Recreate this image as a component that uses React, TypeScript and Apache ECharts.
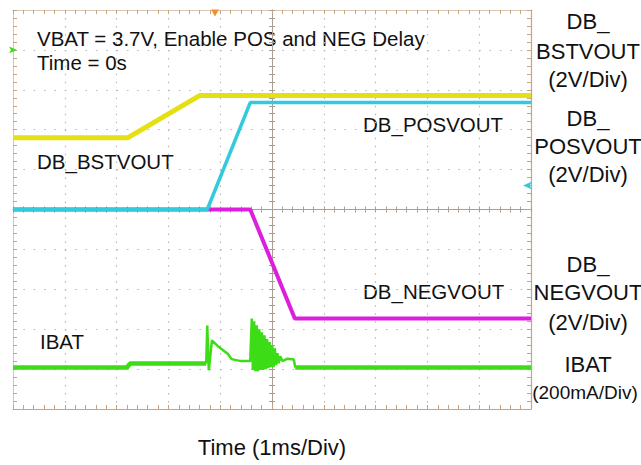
import React, { useEffect, useRef } from "react";
import * as echarts from "echarts";

// Time axis in ms (1 ms/div), vertical axis in screen divisions
const timeRange = [-5, 5];
const divRange = [-5, 5];

// DB_BSTVOUT (yellow) [time ms, div]
const bstvout: [number, number][] = [
  [-5, 1.8], [-2.78, 1.8], [-1.39, 2.86], [5, 2.86],
];
// DB_POSVOUT (cyan)
const posvout: [number, number][] = [
  [-5, 0], [-1.25, 0], [-0.42, 2.68], [5, 2.68],
];
// DB_NEGVOUT (magenta)
const negvout: [number, number][] = [
  [-5, 0], [-0.42, 0], [0.44, -2.73], [5, -2.73],
];
// IBAT (green): quiet part before the transients
const ibatBefore: [number, number][] = [
  [-5, -3.96], [-2.8, -3.96], [-2.74, -3.86], [-1.27, -3.86],
];
// IBAT transients (POS start-up spike, NEG start-up ringing)
const ibatTransient: [number, number][] = [
  [-1.27, -3.86],
  [-1.25, -2.91], [-1.22, -4.03], [-1.16, -3.28], [-1.05, -3.42],
  [-0.95, -3.52], [-0.85, -3.62], [-0.78, -3.75], [-0.6, -3.8], [-0.42, -3.8],
  [-0.39, -2.73], [-0.37, -4.02], [-0.345, -2.8], [-0.32, -4.05], [-0.295, -2.9],
  [-0.27, -4.05], [-0.245, -3.0], [-0.22, -4.02], [-0.195, -3.08], [-0.17, -4.02],
  [-0.145, -3.15], [-0.12, -4.0], [-0.095, -3.25], [-0.07, -3.98], [-0.045, -3.32],
  [-0.02, -3.95], [0.005, -3.4], [0.03, -3.95], [0.055, -3.48], [0.08, -3.9],
  [0.105, -3.6], [0.13, -3.85], [0.16, -3.68], [0.2, -3.8], [0.3, -3.74],
  [0.42, -3.76], [0.45, -3.96],
];
// IBAT quiet part after the transients
const ibatAfter: [number, number][] = [
  [0.45, -3.96], [5, -3.96],
];

// scope markers
const triggerMarker: [number, number] = [-1.1, 5];
const ibatRefMarker: [number, number] = [-5, 4.0];
const posRefMarker: [number, number] = [5, 0.6];

const titleLines = ["VBAT = 3.7V, Enable POS and NEG Delay", "Time = 0s"];
const traceLabels = ["DB_BSTVOUT", "DB_POSVOUT", "DB_NEGVOUT", "IBAT"];
const sideLabels = [
  "DB_", "BSTVOUT", "(2V/Div)",
  "DB_", "POSVOUT", "(2V/Div)",
  "DB_", "NEGVOUT", "(2V/Div)",
  "IBAT", "(200mA/Div)",
];
const xAxisTitle = "Time (1ms/Div)";

const FONT = "'Liberation Sans', Arial, sans-serif";
const BORDER = "#c9a480";
const CENTER = "#ab9f92";
const GRIDDOT = "#b8b8b8";
const GREEN = "#3cdc16";

function txt(text: string, x: number, y: number, size: number, align: string) {
  return {
    type: "text",
    x,
    y,
    silent: true,
    style: {
      text,
      fill: "#111",
      fontSize: size,
      fontFamily: FONT,
      align,
      verticalAlign: "middle",
      textAlign: align,
      textVerticalAlign: "middle",
    },
  };
}

export default function App() {
  const ref = useRef<HTMLDivElement>(null);
  useEffect(() => {
    if (!ref.current) return;
    const chart = echarts.init(ref.current, null, { renderer: "svg" });

    const baseX = (extra: any) => ({
      type: "value",
      min: timeRange[0],
      max: timeRange[1],
      interval: 1,
      axisLabel: { show: false },
      splitLine: { show: false },
      axisTick: { show: true, inside: true, length: 4, lineStyle: { color: BORDER } },
      minorTick: { show: true, splitNumber: 5, length: 4, lineStyle: { color: BORDER } },
      ...extra,
    });
    const baseY = (extra: any) => ({
      type: "value",
      min: divRange[0],
      max: divRange[1],
      interval: 1,
      axisLabel: { show: false },
      splitLine: { show: false },
      axisTick: { show: true, inside: true, length: 4, lineStyle: { color: BORDER } },
      minorTick: { show: true, splitNumber: 5, length: 4, lineStyle: { color: BORDER } },
      ...extra,
    });
    const centerTick = {
      axisTick: { show: true, inside: true, length: 3, lineStyle: { color: CENTER } },
      minorTick: { show: true, splitNumber: 5, length: 3, lineStyle: { color: CENTER } },
    };

    const option: any = {
      animation: false,
      backgroundColor: "#ffffff",
      grid: { left: 13, top: 10, width: 518, height: 399, show: false },
      xAxis: [
        baseX({
          position: "bottom",
          axisLine: { show: true, onZero: false, lineStyle: { color: BORDER, width: 1.2 } },
          splitLine: { show: true, lineStyle: { color: GRIDDOT, type: [1.5, 6.48], width: 1.2 } },
        }),
        baseX({
          position: "top",
          axisLine: { show: true, onZero: false, lineStyle: { color: "#d8c8b8", width: 1 } },
        }),
        baseX({
          position: "bottom",
          axisLine: { show: true, onZero: true, lineStyle: { color: CENTER, width: 1 } },
          ...centerTick,
        }),
        baseX({
          position: "top",
          axisLine: { show: true, onZero: true, lineStyle: { color: CENTER, width: 1 } },
          ...centerTick,
        }),
      ],
      yAxis: [
        baseY({
          position: "left",
          axisLine: { show: true, onZero: false, lineStyle: { color: "#d8c8b8", width: 1 } },
          splitLine: { show: true, lineStyle: { color: GRIDDOT, type: [1.5, 8.86], width: 1.2 } },
        }),
        baseY({
          position: "right",
          axisLine: { show: true, onZero: false, lineStyle: { color: BORDER, width: 1.2 } },
        }),
        baseY({
          position: "left",
          axisLine: { show: true, onZero: true, lineStyle: { color: CENTER, width: 1 } },
          ...centerTick,
        }),
        baseY({
          position: "right",
          axisLine: { show: true, onZero: true, lineStyle: { color: CENTER, width: 1 } },
          ...centerTick,
        }),
      ],
      series: [
        {
          name: "DB_BSTVOUT",
          type: "line",
          data: bstvout,
          showSymbol: false,
          lineStyle: { color: "#e4e012", width: 5 },
          z: 3,
          markPoint: {
            silent: true,
            label: { show: false },
            data: [
              {
                coord: triggerMarker,
                symbol: "triangle",
                symbolRotate: 180,
                symbolSize: [8, 7],
                symbolOffset: [0, 3],
                itemStyle: { color: "#f0902a" },
              },
            ],
          },
        },
        {
          name: "DB_NEGVOUT",
          type: "line",
          data: negvout,
          showSymbol: false,
          lineStyle: { color: "#dc1fdc", width: 4 },
          z: 3,
        },
        {
          name: "DB_POSVOUT",
          type: "line",
          data: posvout,
          showSymbol: false,
          lineStyle: { color: "#32cbdd", width: 3.5 },
          z: 4,
          markPoint: {
            silent: true,
            label: { show: false },
            data: [
              {
                coord: posRefMarker,
                symbol: "arrow",
                symbolRotate: 90,
                symbolSize: [6, 9],
                symbolOffset: [-8, 0],
                itemStyle: { color: "#32cbdd" },
              },
            ],
          },
        },
        {
          name: "IBAT",
          type: "line",
          data: ibatBefore,
          showSymbol: false,
          lineStyle: { color: GREEN, width: 4.5 },
          z: 3,
          markPoint: {
            silent: true,
            label: { show: false },
            data: [
              {
                coord: ibatRefMarker,
                symbol: "arrow",
                symbolRotate: -90,
                symbolSize: [5, 8],
                symbolOffset: [4, 0],
                itemStyle: { color: GREEN },
              },
            ],
          },
        },
        {
          name: "IBAT",
          type: "line",
          data: ibatTransient,
          showSymbol: false,
          lineStyle: { color: GREEN, width: 2.5 },
          z: 3,
        },
        {
          name: "IBAT",
          type: "line",
          data: ibatAfter,
          showSymbol: false,
          lineStyle: { color: GREEN, width: 4.5 },
          z: 3,
        },
      ],
      graphic: [
        txt(titleLines[0], 37, 38, 20.5, "left"),
        txt(titleLines[1], 37, 62, 20.5, "left"),
        txt(traceLabels[0], 37, 161, 20.5, "left"),
        txt(traceLabels[1], 363, 124, 20.5, "left"),
        txt(traceLabels[2], 363, 291, 20.5, "left"),
        txt(traceLabels[3], 40, 341, 20.5, "left"),
        txt(sideLabels[0], 588, 21, 22, "center"),
        txt(sideLabels[1], 588, 51, 22, "center"),
        txt(sideLabels[2], 588, 79, 22, "center"),
        txt(sideLabels[3], 588, 118, 22, "center"),
        txt(sideLabels[4], 588, 146, 22, "center"),
        txt(sideLabels[5], 588, 174, 22, "center"),
        txt(sideLabels[6], 588, 264, 22, "center"),
        txt(sideLabels[7], 588, 292, 22, "center"),
        txt(sideLabels[8], 588, 322, 22, "center"),
        txt(sideLabels[9], 588, 364, 22, "center"),
        txt(sideLabels[10], 585, 392, 19, "center"),
        txt(xAxisTitle, 272, 447, 22, "center"),
      ],
    };
    chart.setOption(option);
    return () => chart.dispose();
  }, []);
  return (
    <div
      ref={ref}
      style={{ position: "fixed", left: 0, top: 0, width: 641, height: 465, background: "#fff" }}
    />
  );
}
